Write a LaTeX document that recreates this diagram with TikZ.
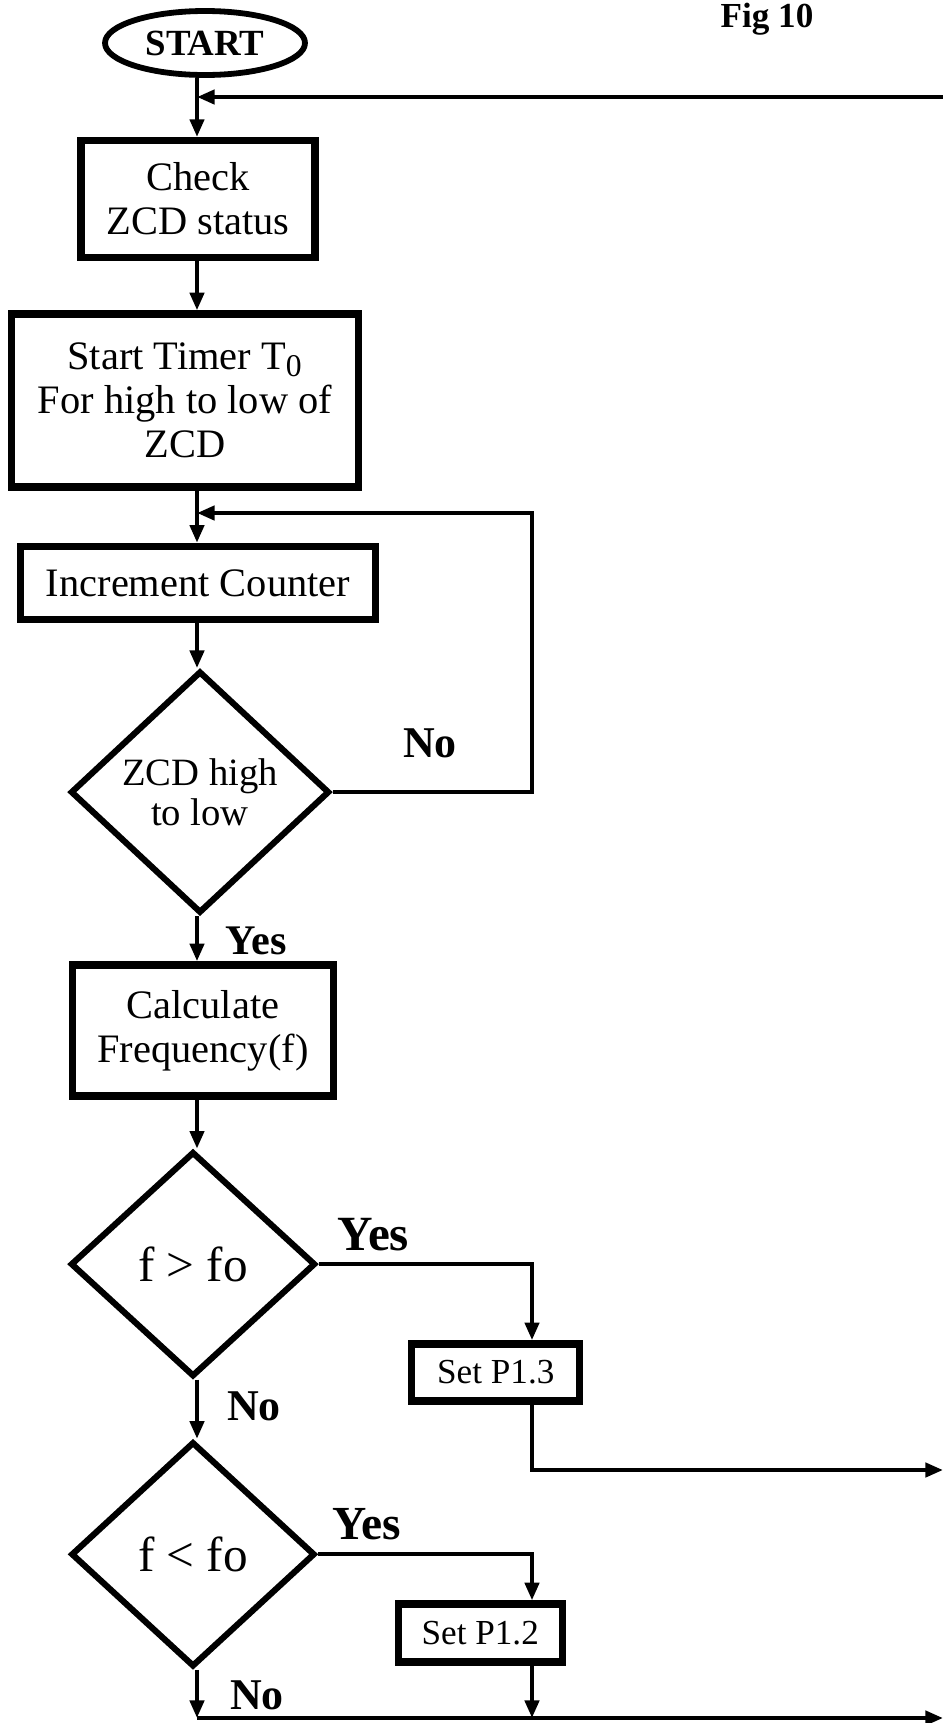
\documentclass[tikz,border=0pt]{standalone}
\usepackage{fontspec}
\setmainfont{Liberation Serif}
\usetikzlibrary{positioning,shapes.geometric,arrows.meta}

\begin{document}
\begin{tikzpicture}[
		every node/.style={align=center, inner sep=0pt},
		box/.style={draw, line width=4.2pt, font=\fontsize{23}{25}\selectfont},
		setbox/.style={box, font=\fontsize{20}{22}\selectfont},
		decision/.style={draw, diamond, aspect=1, line width=3.5pt},
		terminal/.style={draw, ellipse, line width=3.3pt, font=\bfseries\fontsize{21}{24}\selectfont},
		conn/.style={line width=2.3pt, -{Triangle[length=10pt,width=8pt]}},
		lbl/.style={font=\bfseries\fontsize{25}{28}\selectfont},
		]

		\useasboundingbox (0,0) rectangle (18.86,-34.46);

		\coordinate (spine) at (3.94,0);
		\coordinate (rcol) at (10.64,0);
		\coordinate (ret) at (18.86,-1.94);
		\coordinate (loopc) at (10.64,-10.26);
		\coordinate (out1) at (18.86,-29.4);
		\coordinate (out2) at (18.86,-34.36);

		\node (fig) [lbl, font=\bfseries\fontsize{20}{22}\selectfont] at (15.34,-0.38) {Fig 10};
		\node (start) [terminal, minimum width=4.0cm, minimum height=1.28cm] at (4.1,-0.86) {START};
		\node (check) [box, minimum width=4.68cm, minimum height=2.34cm, below=1.18cm of start, xshift=-0.14cm] {Check\\ZCD status};
		\node (timer) [box, minimum width=6.94cm, minimum height=3.46cm, below=0.98cm of check, xshift=-0.26cm] {Start Timer T\textsubscript{\fontsize{18}{20}\selectfont 0}\\For high to low of\\ZCD};
		\node (incr) [box, minimum width=7.1cm, minimum height=1.46cm, below=1.04cm of timer, xshift=0.26cm] {Increment Counter};
		\node (zcd) [decision, font=\fontsize{22}{23}\selectfont, minimum width=5.18cm, minimum height=4.84cm, below=0.9cm of incr, xshift=0.04cm] {ZCD high\\to low};
		\node (calc) [box, minimum width=5.22cm, minimum height=2.62cm, below=0.9cm of zcd, xshift=0.06cm] {Calculate\\Frequency(f)};
		\node (gt) [decision, font=\fontsize{28}{30}\selectfont, minimum width=4.9cm, minimum height=4.5cm, below=0.98cm of calc, xshift=-0.2cm] {f > fo};
		\node (set13) [setbox, minimum width=3.36cm, minimum height=1.14cm, below right=1.52cm and 1.79cm of gt.east] {Set P1.3};
		\node (lt) [decision, font=\fontsize{28}{30}\selectfont, minimum width=4.88cm, minimum height=4.5cm, below=1.18cm of gt] {f < fo};
		\node (set12) [setbox, minimum width=3.28cm, minimum height=1.16cm, below right=0.92cm and 1.53cm of lt.east] {Set P1.2};

		\node (no1) [lbl] at (8.6,-14.86) {No};
		\node (yes1) [lbl, font=\bfseries\fontsize{24}{26}\selectfont] at (5.12,-18.82) {Yes};
		\node (yes2) [lbl, font=\bfseries\fontsize{28}{30}\selectfont] at (7.47,-24.7) {Yes};
		\node (no2) [lbl] at (5.08,-28.12) {No};
		\node (yes3) [lbl, font=\bfseries\fontsize{27}{30}\selectfont] at (7.34,-30.48) {Yes};
		\node (no3) [lbl] at (5.14,-33.9) {No};

		\draw[conn] (spine |- start.south) -- (spine |- check.north);
		\draw[conn] (ret) -- (spine |- ret);
		\draw[conn] (spine |- check.south) -- (spine |- timer.north);
		\draw[conn] (spine |- timer.south) -- (spine |- incr.north);
		\draw[conn] (spine |- incr.south) -- (spine |- zcd.north);
		\draw[conn] (zcd.east) -| (loopc) -- (spine |- loopc);
		\draw[conn] (spine |- zcd.south) -- (spine |- calc.north);
		\draw[conn] (spine |- calc.south) -- (spine |- gt.north);
		\draw[conn] (gt.east) -| (rcol |- set13.north);
		\draw[conn] (rcol |- set13.south) |- (out1);
		\draw[conn] (spine |- gt.south) -- (spine |- lt.north);
		\draw[conn] (lt.east) -| (rcol |- set12.north);
		\draw[conn] (rcol |- set12.south) -- (rcol |- out2);
		\draw[conn] (spine |- lt.south) -- (spine |- out2);
		\draw[conn] (spine |- out2) -- (out2);

	\end{tikzpicture}
\end{document}
